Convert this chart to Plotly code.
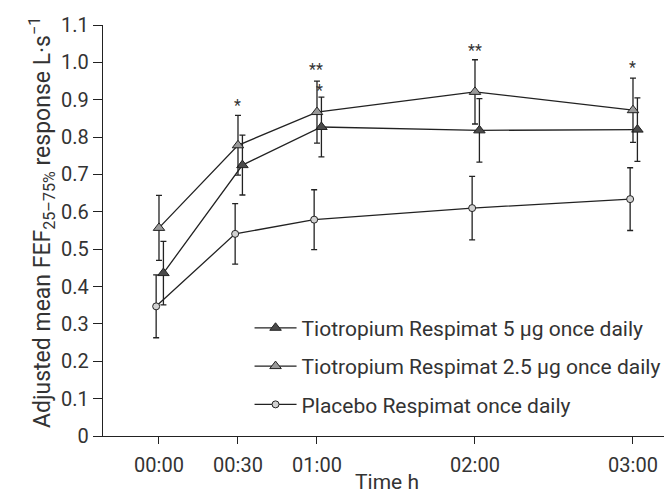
import plotly.graph_objects as go

# ---- data ----
time_h = [0, 0.5, 1, 2, 3]
time_labels = ["00:00", "00:30", "01:00", "02:00", "03:00"]

tio5_mean = [0.436, 0.725, 0.827, 0.818, 0.820]
tio5_err = [0.085, 0.080, 0.080, 0.085, 0.085]

tio25_mean = [0.557, 0.778, 0.867, 0.921, 0.872]
tio25_err = [0.087, 0.080, 0.083, 0.086, 0.086]

plac_mean = [0.347, 0.541, 0.579, 0.610, 0.634]
plac_err = [0.084, 0.081, 0.080, 0.085, 0.084]

y_ticks = [0, 0.1, 0.2, 0.3, 0.4, 0.5, 0.6, 0.7, 0.8, 0.9, 1.0, 1.1]
y_tick_labels = ["0", "0.1", "0.2", "0.3", "0.4", "0.5", "0.6", "0.7", "0.8", "0.9", "1.0", "1.1"]

# significance markers
sig_x = [0.5, 0.996, 2.0, 3.0]
sig_y = [0.885, 0.952, 1.032, 0.986]
sig_text = ["*", "**<br>*", "**", "*"]

y_title = "Adjusted mean FEF<sub>25–75%</sub> response L·s<sup>−1</sup>"
x_title = "Time h"

# ---- styling ----
FONT = "Roboto"
TXT = "#333333"
LINE = "#222222"
DODGE = {"tio5": 0.028, "tio25": 0.0, "plac": -0.018}

def shift(xs, d):
    return [x + d for x in xs]

fig = go.Figure()

series = [
    ("Tiotropium Respimat 5 µg once daily", "tio5", tio5_mean, tio5_err, "triangle-up", "#4a4a4a", 10),
    ("Tiotropium Respimat 2.5 µg once daily", "tio25", tio25_mean, tio25_err, "triangle-up", "#9a9a9a", 10),
    ("Placebo Respimat once daily", "plac", plac_mean, plac_err, "circle", "#d2d2d2", 7),
]

for name, key, ys, es, sym, fill, size in series:
    fig.add_trace(go.Scatter(
        x=shift(time_h, DODGE[key]), y=ys,
        mode="lines+markers", name=name, legendgroup=key,
        line=dict(color=LINE, width=1.3),
        marker=dict(symbol=sym, size=size, color=fill, line=dict(color=LINE, width=1)),
        error_y=dict(type="data", array=es, visible=True, color=LINE, thickness=1.3, width=3),
    ))

for sx, sy, st in zip(sig_x, sig_y, sig_text):
    fig.add_annotation(x=sx, y=sy, text=st, showarrow=False, xref="x", yref="y",
                       xanchor="center", yanchor="middle", align="right",
                       font=dict(family=FONT, size=16, color=TXT))

# axis titles as text placed next to the axes
fig.add_annotation(x=-0.108, y=0.52, xref="paper", yref="paper", text=y_title,
                   showarrow=False, textangle=-90, xanchor="center", yanchor="middle",
                   font=dict(family=FONT, size=23, color=TXT))
fig.add_annotation(x=0.5, y=-0.145, xref="paper", yref="paper", text=x_title,
                   showarrow=False, xanchor="center", yanchor="bottom",
                   font=dict(family=FONT, size=21, color=TXT))

fig.update_layout(
    template="none",
    width=672, height=494,
    margin=dict(l=95, r=9, t=17, b=66),
    paper_bgcolor="white", plot_bgcolor="white",
    font=dict(family=FONT, size=20, color=TXT),
    showlegend=True,
    legend=dict(
        x=0.258, y=0.170, xanchor="left", yanchor="middle",
        bgcolor="rgba(0,0,0,0)", borderwidth=0,
        font=dict(family=FONT, size=21, color=TXT),
        itemwidth=42, tracegroupgap=8, traceorder="grouped",
    ),
    xaxis=dict(
        range=[-0.3544, 3.2406], tickmode="array", tickvals=time_h, ticktext=time_labels,
        showline=True, linecolor=LINE, linewidth=1.3, ticks="outside", ticklen=7,
        tickwidth=1.3, tickcolor=LINE, showgrid=False, zeroline=False, automargin=False,
        tickfont=dict(family=FONT, size=20, color=TXT), ticklabelstandoff=4,
    ),
    yaxis=dict(
        range=[0, 1.1], tickmode="array", tickvals=y_ticks, ticktext=y_tick_labels,
        showline=True, linecolor=LINE, linewidth=1.3, ticks="outside", ticklen=9,
        tickwidth=1.3, tickcolor=LINE, showgrid=False, zeroline=False, automargin=False,
        tickfont=dict(family=FONT, size=20, color=TXT),
    ),
)

fig.write_html("out.html")
